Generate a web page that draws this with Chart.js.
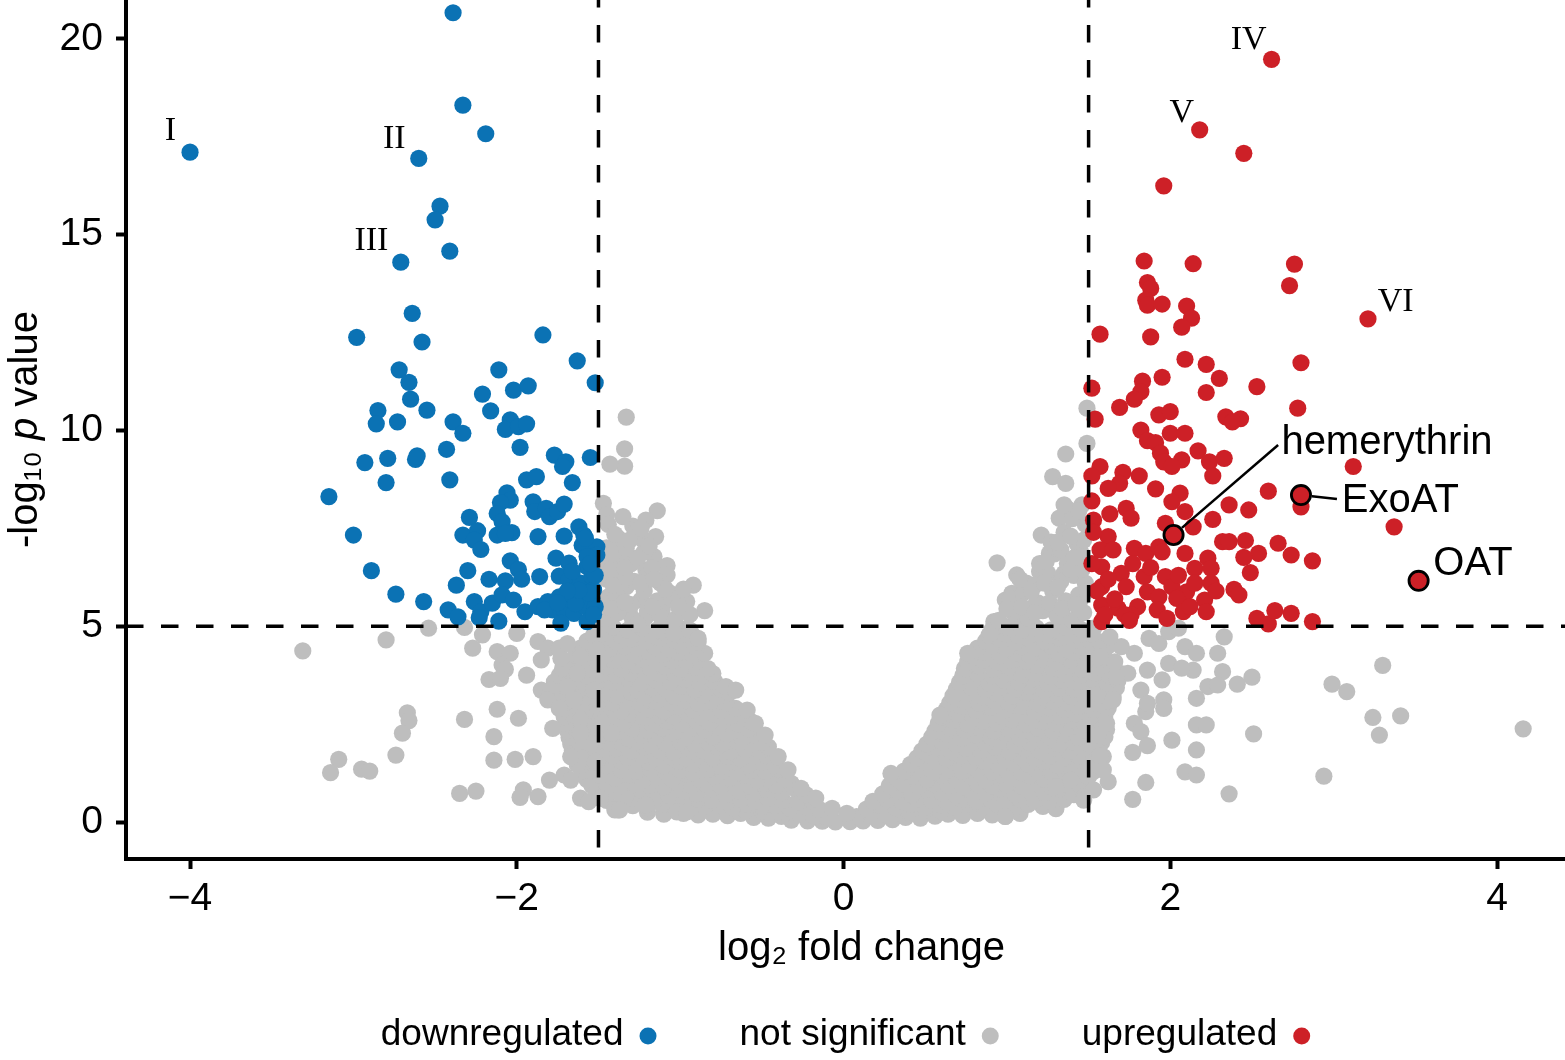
<!DOCTYPE html>
<html>
<head>
<meta charset="utf-8">
<title>Volcano plot</title>
<script src="https://cdn.jsdelivr.net/npm/chart.js@4.4.1/dist/chart.umd.min.js"></script>
<style>
  html, body { margin: 0; padding: 0; background: #fff; }
  #wrap { width: 1565px; height: 1060px; }
</style>
</head>
<body>
<div id="wrap"><canvas id="chart" width="1565" height="1060"></canvas></div>
<script>
// Axis ticks and cut-offs
const xTicks = [-4, -2, 0, 2, 4];
const yTicks = [0, 5, 10, 15, 20];
const fcCut = 1.5;   // |log2 fold change|
const pCut = 5;      // -log10 p

// Significant genes, [log2FC, -log10 p]
const downregulated = [
  [-2.39,20.67],[-4.00,17.11],[-2.33,18.31],[-2.19,17.58],[-2.60,16.95],[-2.47,15.73],[-2.50,15.38],[-2.41,14.58],
  [-2.71,14.30],[-2.64,12.99],[-2.98,12.38],[-2.58,12.26],[-1.84,12.44],[-1.63,11.78],[-1.52,11.22],[-2.72,11.55],
  [-2.66,11.23],[-2.65,10.80],[-2.55,10.52],[-2.85,10.51],[-2.86,10.17],[-2.73,10.22],[-2.11,11.55],[-2.02,11.03],
  [-1.93,11.14],[-2.21,10.93],[-2.16,10.50],[-2.39,10.22],[-2.33,9.93],[-2.04,10.27],[-2.07,10.03],[-1.99,10.10],
  [-1.94,10.17],[-1.98,9.57],[-2.93,9.18],[-2.79,9.29],[-2.62,9.26],[-2.61,9.35],[-2.43,9.52],[-2.80,8.67],
  [-2.41,8.74],[-3.15,8.31],[-3.00,7.33],[-2.89,6.42],[-2.74,5.82],[-2.57,5.63],[-2.42,5.42],[-2.36,5.24],
  [-1.77,9.37],[-1.70,9.20],[-1.72,9.08],[-1.55,9.31],[-1.94,8.74],[-1.88,8.82],[-1.66,8.67],[-2.06,8.41],
  [-2.04,8.22],[-2.10,8.16],[-2.12,7.88],[-2.09,7.67],[-1.90,8.18],[-1.89,7.93],[-1.82,8.01],[-1.80,7.80],
  [-1.75,7.93],[-1.71,8.12],[-2.29,7.78],[-2.33,7.33],[-2.24,7.44],[-2.26,7.20],[-2.22,6.96],[-2.12,7.33],
  [-2.03,7.39],[-2.07,7.37],[-1.87,7.29],[-1.71,7.30],[-1.62,7.54],[-1.59,7.33],[-1.60,7.07],[-1.51,7.03],
  [-1.51,6.82],[-1.57,6.78],[-1.76,6.74],[-1.68,6.61],[-1.57,6.52],[-2.04,6.67],[-1.99,6.45],[-1.97,6.20],
  [-2.30,6.42],[-2.17,6.20],[-2.07,6.16],[-1.86,6.27],[-1.74,6.28],[-1.68,6.18],[-1.61,6.10],[-1.54,6.27],
  [-2.37,6.05],[-2.26,5.63],[-2.22,5.37],[-2.15,5.59],[-2.09,5.80],[-2.02,5.67],[-1.95,5.37],[-2.23,5.22],
  [-2.11,5.13],[-1.87,5.50],[-1.81,5.63],[-1.74,5.75],[-1.67,5.67],[-1.60,5.75],[-1.54,5.71],[-1.78,5.42],
  [-1.71,5.42],[-1.65,5.33],[-1.58,5.50],[-1.52,5.50],[-1.73,5.08],[-1.57,5.12],[-1.53,5.93],[-1.83,5.42],
  [-1.52,6.30],[-1.55,6.60],[-1.53,5.30],[-1.56,5.85],[-1.64,5.58],[-1.62,5.92],[-1.69,5.90],[-1.75,5.60],
  [-1.66,6.40],[-1.58,7.25]
];

const upregulated = [
  [2.62,19.48],[2.18,17.68],[2.45,17.08],[1.96,16.25],[1.84,14.33],[2.14,14.26],[2.76,14.25],[1.86,13.78],
  [1.88,13.63],[2.73,13.70],[1.85,13.33],[1.86,13.20],[1.95,13.23],[2.10,13.18],[2.13,12.87],[2.07,12.64],
  [3.21,12.85],[1.57,12.46],[1.88,12.39],[2.09,11.82],[2.22,11.69],[2.30,11.33],[2.53,11.12],[2.80,11.73],
  [2.78,10.57],[2.22,10.97],[1.95,11.36],[1.83,11.26],[1.82,10.99],[1.78,10.80],[1.69,10.59],[1.52,11.08],
  [1.54,10.29],[1.93,10.40],[2.00,10.48],[2.34,10.35],[2.43,10.30],[2.38,10.22],[1.82,10.01],[2.00,9.93],
  [2.09,9.93],[1.86,9.74],[1.91,9.69],[2.17,9.48],[1.94,9.42],[1.96,9.20],[2.07,9.25],[2.01,9.08],
  [2.24,9.20],[2.33,9.29],[2.26,8.84],[1.57,9.08],[1.52,8.84],[1.71,8.93],[1.69,8.65],[1.81,8.84],
  [1.62,8.52],[1.91,8.51],[2.06,8.40],[2.01,8.18],[3.12,9.08],[2.60,8.45],[2.80,8.05],[3.37,7.54],
  [2.36,8.10],[2.48,7.97],[2.26,7.73],[2.09,7.93],[2.14,7.54],[1.97,7.63],[1.73,8.01],[1.63,7.87],
  [1.76,7.76],[1.53,7.71],[1.62,7.29],[1.57,6.95],[1.65,6.95],[1.78,6.99],[1.85,6.86],[1.93,7.03],
  [2.09,6.86],[2.32,7.16],[2.36,7.16],[2.46,7.19],[2.66,7.12],[2.74,6.82],[2.87,6.67],[2.54,6.86],
  [2.45,6.76],[2.49,6.37],[2.23,6.74],[2.15,6.48],[2.25,6.48],[1.84,6.27],[1.70,6.35],[1.58,6.52],
  [1.97,6.27],[2.01,6.01],[2.10,5.88],[2.25,6.10],[2.39,5.94],[2.42,5.80],[1.58,6.01],[1.73,6.01],
  [1.86,5.88],[1.93,5.75],[2.04,5.71],[2.21,5.67],[1.58,5.54],[1.68,5.46],[1.80,5.50],[1.92,5.42],
  [2.08,5.37],[2.22,5.37],[1.58,5.12],[1.76,5.29],[2.53,5.20],[2.60,5.06],[2.64,5.40],[2.74,5.33],
  [2.87,5.12],[1.55,5.90],[1.62,6.20],[1.66,5.70],[1.72,5.30],[1.77,6.60],[1.88,6.50],[1.95,6.90],
  [2.05,6.30],[2.12,5.50],[1.60,5.30],[1.75,5.15],[1.98,5.20],[2.15,6.10],[2.28,5.90],[1.52,6.60],
  [1.53,7.40],[1.52,8.20]
];

// Named genes
const geneNames = ['hemerythrin', 'ExoAT', 'OAT'];
const genePoints = [[2.02,7.33],[2.80,8.35],[3.52,6.16]];
const geneLabelAt = [[2.68,9.40],[3.05,7.92],[3.61,6.31]];
const geneLineEnd = [[2.66,9.63],[3.02,8.25],null];

// Roman numeral callouts
const romanText = ['I','II','III','IV','V','VI'];
const romanAt = [[-4.12,17.42],[-2.75,17.22],[-2.89,14.61],[2.48,19.74],[2.07,17.88],[3.38,13.05]];

// Not significant genes
const nsCenter = [
  [-0.32,0.05],[-0.22,0.03],[-0.13,0.02],[-0.05,0.00],[0.04,0.01],[0.12,0.03],[0.21,0.04],[0.30,0.06],
  [-0.55,0.12],[-0.46,0.10],[-0.38,0.14],[0.38,0.12],[0.47,0.10],[0.56,0.15],
  [-0.98,0.22],[-0.89,0.18],[-0.80,0.20],[-0.71,0.16],[-0.63,0.22],[-0.27,0.20],[-0.18,0.15],[-0.10,0.12],
  [0.08,0.14],[0.17,0.18],[0.25,0.20],[0.64,0.20],[0.73,0.17],[0.82,0.22],[0.91,0.18],[0.99,0.14],
  [-0.60,0.30],[-0.50,0.28],[0.50,0.30],[0.60,0.28],[-0.40,0.25],[0.40,0.26],[-1.10,0.20],[-1.20,0.25],[1.08,0.22]
];

const nsLeftArm = [
  [-1.38,0.31],[-1.29,0.42],[-1.20,0.36],[-1.11,0.45],[-1.03,0.38],[-0.94,0.47],[-0.85,0.40],[-0.76,0.44],
  [-0.68,0.37],[-0.59,0.46],[-0.50,0.39],[-0.42,0.43],[-0.33,0.36],[-0.24,0.41],[-0.15,0.33],
  [-1.45,0.55],[-1.35,0.52],[-1.25,0.58],[-1.16,0.54],[-1.07,0.57],[-0.98,0.52],[-0.89,0.59],[-0.80,0.55],
  [-0.71,0.51],[-0.63,0.58],[-0.54,0.53],[-0.46,0.60],[-0.37,0.55],[-0.28,0.52],[-0.20,0.57],
  [-1.50,0.66],[-1.42,0.78],[-1.33,0.70],[-1.24,0.82],[-1.16,0.74],[-1.07,0.68],[-0.98,0.80],[-0.90,0.72],
  [-0.81,0.84],[-0.72,0.70],[-0.64,0.79],[-0.55,0.73],[-0.47,0.83],[-0.38,0.75],[-0.30,0.86],[-0.23,0.70],
  [-1.54,0.93],[-1.45,0.97],[-1.37,0.91],[-1.28,0.98],[-1.19,0.94],[-1.10,0.90],[-1.01,0.99],[-0.93,0.93],
  [-0.84,0.96],[-0.75,0.92],[-0.66,0.98],[-0.57,0.91],[-0.49,0.97],[-0.41,0.94],[-0.32,0.99],
  [-1.57,1.08],[-1.49,1.19],[-1.40,1.12],[-1.31,1.20],[-1.23,1.06],[-1.14,1.15],[-1.05,1.10],[-0.96,1.22],
  [-0.88,1.09],[-0.79,1.17],[-0.70,1.12],[-0.61,1.20],[-0.53,1.07],[-0.45,1.16],[-0.36,1.10],
  [-1.60,1.30],[-1.53,1.34],[-1.44,1.27],[-1.36,1.33],[-1.27,1.29],[-1.18,1.35],[-1.09,1.28],[-1.00,1.32],
  [-0.92,1.26],[-0.83,1.34],[-0.74,1.30],[-0.65,1.27],[-0.56,1.33],[-0.48,1.29],[-0.40,1.34],
  [-1.63,1.46],[-1.54,1.53],[-1.45,1.44],[-1.36,1.56],[-1.28,1.48],[-1.19,1.52],[-1.10,1.43],[-1.01,1.55],
  [-0.92,1.47],[-0.84,1.50],[-0.75,1.42],[-0.67,1.54],[-0.58,1.46],[-0.50,1.52],[-0.42,1.44],
  [-1.65,1.64],[-1.58,1.68],[-1.50,1.62],[-1.41,1.69],[-1.32,1.65],[-1.23,1.70],[-1.15,1.63],[-1.06,1.67],
  [-0.97,1.62],[-0.88,1.69],[-0.80,1.64],[-0.71,1.68],[-0.63,1.62],[-0.55,1.67],[-0.47,1.70],
  [-1.66,1.82],[-1.57,1.90],[-1.48,1.79],[-1.39,1.87],[-1.30,1.81],[-1.22,1.92],[-1.13,1.84],[-1.04,1.78],
  [-0.95,1.89],[-0.86,1.83],[-0.77,1.91],[-0.69,1.80],[-0.60,1.86],[-0.51,1.81],[-0.46,1.92],
  [-1.67,1.99],[-1.62,2.05],[-1.53,1.98],[-1.44,2.03],[-1.35,2.00],[-1.26,2.06],[-1.18,1.97],[-1.09,2.02],
  [-1.00,2.05],[-0.91,1.98],[-0.83,2.04],[-0.74,2.00],[-0.65,2.06],[-0.57,1.99],[-0.50,2.03],
  [-1.68,2.16],[-1.59,2.24],[-1.50,2.18],[-1.41,2.27],[-1.32,2.14],[-1.24,2.22],[-1.15,2.17],[-1.06,2.26],
  [-0.97,2.15],[-0.88,2.23],[-0.80,2.18],[-0.71,2.25],[-0.62,2.14],[-0.54,2.21],
  [-1.69,2.33],[-1.64,2.40],[-1.55,2.35],[-1.46,2.41],[-1.38,2.32],[-1.29,2.38],[-1.20,2.34],[-1.11,2.40],
  [-1.02,2.33],[-0.93,2.39],[-0.85,2.35],[-0.76,2.42],[-0.67,2.33],[-0.58,2.38],
  [-1.70,2.52],[-1.61,2.60],[-1.52,2.50],[-1.43,2.58],[-1.35,2.53],[-1.26,2.62],[-1.17,2.49],[-1.08,2.57],
  [-0.99,2.51],[-0.90,2.60],[-0.82,2.54],[-0.73,2.61],[-0.64,2.50],[-0.57,2.58],
  [-1.71,2.69],[-1.66,2.75],[-1.57,2.68],[-1.48,2.74],[-1.39,2.70],[-1.30,2.76],[-1.22,2.67],[-1.13,2.73],
  [-1.04,2.70],[-0.95,2.76],[-0.87,2.68],[-0.78,2.74],[-0.69,2.70],[-0.62,2.75],
  [-1.72,2.88],[-1.63,2.95],[-1.54,2.86],[-1.45,2.93],[-1.36,2.84],[-1.28,2.96],[-1.19,2.89],[-1.10,2.83],
  [-1.01,2.94],[-0.92,2.87],[-0.84,2.92],[-0.75,2.85],[-0.66,2.90],
  [-1.74,3.04],[-1.68,3.10],[-1.59,3.03],[-1.50,3.09],[-1.41,3.05],[-1.33,3.11],[-1.24,3.02],[-1.15,3.08],
  [-1.06,3.05],[-0.97,3.10],[-0.89,3.03],[-0.80,3.08],[-0.72,3.04],
  [-1.75,3.22],[-1.66,3.30],[-1.57,3.20],[-1.48,3.28],[-1.39,3.23],[-1.30,3.31],[-1.22,3.19],[-1.13,3.27],
  [-1.04,3.22],[-0.95,3.30],[-0.86,3.24],[-0.77,3.20],[-0.70,3.30],
  [-1.76,3.39],[-1.70,3.45],[-1.62,3.38],[-1.53,3.44],[-1.44,3.40],[-1.35,3.46],[-1.26,3.37],[-1.17,3.43],
  [-1.09,3.40],[-1.00,3.46],[-0.91,3.38],[-0.82,3.44],[-0.75,3.40],
  [-1.77,3.58],[-1.68,3.65],[-1.59,3.55],[-1.50,3.62],[-1.41,3.57],[-1.32,3.66],[-1.24,3.54],[-1.15,3.63],
  [-1.06,3.58],[-0.97,3.64],[-0.88,3.56],[-0.79,3.60],
  [-1.74,3.74],[-1.66,3.80],[-1.57,3.73],[-1.48,3.79],[-1.39,3.75],[-1.30,3.81],[-1.21,3.72],[-1.12,3.78],
  [-1.03,3.75],[-0.94,3.80],[-0.86,3.74],[-0.80,3.79],
  [-1.72,3.92],[-1.63,3.99],[-1.54,3.90],[-1.45,3.97],[-1.36,3.91],[-1.27,4.00],[-1.18,3.93],[-1.09,3.98],
  [-1.00,3.90],[-0.91,3.96],[-0.83,3.92],
  [-1.68,4.09],[-1.59,4.14],[-1.50,4.08],[-1.41,4.13],[-1.32,4.10],[-1.23,4.16],[-1.14,4.07],[-1.05,4.13],
  [-0.96,4.10],[-0.88,4.15],
  [-1.64,4.27],[-1.55,4.34],[-1.46,4.25],[-1.37,4.32],[-1.28,4.26],[-1.19,4.35],[-1.10,4.28],[-1.01,4.33],
  [-0.92,4.26],[-0.85,4.31],
  [-1.61,4.44],[-1.52,4.49],[-1.43,4.43],[-1.34,4.48],[-1.25,4.45],[-1.16,4.50],[-1.07,4.42],[-0.98,4.48],
  [-0.90,4.45],
  [-1.57,4.62],[-1.48,4.68],[-1.39,4.60],[-1.30,4.67],[-1.21,4.61],[-1.12,4.70],[-1.03,4.63],[-0.95,4.66],
  [-0.89,4.60],
  [-1.53,4.77],[-1.45,4.82],[-1.36,4.76],[-1.27,4.81],[-1.18,4.78],[-1.09,4.83],[-1.00,4.77],[-0.93,4.80],
  [-1.50,4.92],[-1.41,4.98],[-1.32,4.90],[-1.23,4.96],[-1.14,4.91],[-1.05,4.97],[-0.97,4.93]
];

const nsRightArm = [
  [0.14,0.33],[0.23,0.42],[0.32,0.36],[0.41,0.45],[0.50,0.38],[0.59,0.44],[0.68,0.37],[0.77,0.46],
  [0.86,0.39],[0.95,0.43],[1.04,0.36],[1.13,0.45],[1.22,0.40],[1.30,0.34],
  [0.18,0.53],[0.27,0.57],[0.36,0.52],[0.45,0.59],[0.54,0.55],[0.63,0.51],[0.72,0.58],[0.81,0.54],
  [0.90,0.57],[0.99,0.52],[1.08,0.59],[1.17,0.55],[1.26,0.53],[1.35,0.58],
  [0.24,0.72],[0.33,0.80],[0.42,0.70],[0.51,0.83],[0.60,0.75],[0.69,0.68],[0.78,0.81],[0.87,0.73],
  [0.96,0.85],[1.05,0.71],[1.14,0.79],[1.23,0.74],[1.32,0.84],[1.41,0.70],
  [0.28,0.93],[0.37,0.97],[0.46,0.91],[0.55,0.98],[0.64,0.94],[0.73,0.90],[0.82,0.99],[0.91,0.93],
  [1.00,0.96],[1.09,0.92],[1.18,0.98],[1.27,0.91],[1.36,0.97],[1.45,0.94],
  [0.33,1.10],[0.42,1.18],[0.51,1.08],[0.60,1.20],[0.69,1.12],[0.78,1.16],[0.87,1.07],[0.96,1.21],
  [1.05,1.11],[1.14,1.18],[1.23,1.09],[1.32,1.20],[1.41,1.12],[1.50,1.16],
  [0.37,1.30],[0.46,1.34],[0.55,1.27],[0.64,1.33],[0.73,1.29],[0.82,1.35],[0.91,1.28],[1.00,1.32],
  [1.09,1.26],[1.18,1.34],[1.27,1.30],[1.36,1.27],[1.45,1.33],[1.53,1.29],
  [0.41,1.47],[0.50,1.54],[0.59,1.44],[0.68,1.52],[0.77,1.46],[0.86,1.55],[0.95,1.43],[1.04,1.51],
  [1.13,1.47],[1.22,1.56],[1.31,1.45],[1.40,1.53],[1.49,1.48],[1.56,1.44],
  [0.45,1.64],[0.54,1.68],[0.63,1.62],[0.72,1.69],[0.81,1.65],[0.90,1.70],[0.99,1.63],[1.08,1.67],
  [1.17,1.62],[1.26,1.69],[1.35,1.64],[1.44,1.68],[1.53,1.62],[1.59,1.67],
  [0.48,1.82],[0.57,1.90],[0.66,1.80],[0.75,1.88],[0.84,1.83],[0.93,1.91],[1.02,1.79],[1.11,1.87],
  [1.20,1.82],[1.29,1.90],[1.38,1.81],[1.47,1.88],[1.56,1.84],
  [0.51,1.99],[0.60,2.05],[0.69,1.98],[0.78,2.03],[0.87,2.00],[0.96,2.06],[1.05,1.97],[1.14,2.02],
  [1.23,2.05],[1.32,1.98],[1.41,2.04],[1.50,2.00],[1.58,2.03],
  [0.54,2.17],[0.63,2.25],[0.72,2.14],[0.81,2.22],[0.90,2.18],[0.99,2.26],[1.08,2.15],[1.17,2.23],
  [1.26,2.17],[1.35,2.25],[1.44,2.16],[1.53,2.22],[1.60,2.18],
  [0.56,2.33],[0.65,2.40],[0.74,2.35],[0.83,2.41],[0.92,2.32],[1.01,2.38],[1.10,2.34],[1.19,2.40],
  [1.28,2.33],[1.37,2.39],[1.46,2.35],[1.55,2.42],[1.61,2.36],
  [0.58,2.52],[0.67,2.60],[0.76,2.50],[0.85,2.58],[0.94,2.53],[1.03,2.61],[1.12,2.49],[1.21,2.57],
  [1.30,2.52],[1.39,2.60],[1.48,2.50],[1.57,2.58],
  [0.61,2.69],[0.70,2.75],[0.79,2.68],[0.88,2.74],[0.97,2.70],[1.06,2.76],[1.15,2.67],[1.24,2.73],
  [1.33,2.70],[1.42,2.76],[1.51,2.68],[1.60,2.74],
  [0.63,2.88],[0.72,2.95],[0.81,2.85],[0.90,2.93],[0.99,2.87],[1.08,2.96],[1.17,2.84],[1.26,2.92],
  [1.35,2.88],[1.44,2.95],[1.53,2.86],[1.62,2.91],
  [0.65,3.04],[0.74,3.10],[0.83,3.03],[0.92,3.09],[1.01,3.05],[1.10,3.11],[1.19,3.02],[1.28,3.08],
  [1.37,3.05],[1.46,3.10],[1.55,3.03],[1.63,3.08],
  [0.67,3.22],[0.76,3.30],[0.85,3.20],[0.94,3.28],[1.03,3.23],[1.12,3.31],[1.21,3.19],[1.30,3.27],
  [1.39,3.22],[1.48,3.30],[1.57,3.24],[1.65,3.20],
  [0.69,3.39],[0.78,3.45],[0.87,3.38],[0.96,3.44],[1.05,3.40],[1.14,3.46],[1.23,3.37],[1.32,3.43],
  [1.41,3.40],[1.50,3.46],[1.59,3.38],[1.67,3.43],
  [0.71,3.57],[0.80,3.65],[0.89,3.55],[0.98,3.63],[1.07,3.58],[1.16,3.66],[1.25,3.54],[1.34,3.62],
  [1.43,3.57],[1.52,3.65],[1.61,3.56],[1.68,3.62],
  [0.73,3.74],[0.82,3.80],[0.91,3.73],[1.00,3.79],[1.09,3.75],[1.18,3.81],[1.27,3.72],[1.36,3.78],
  [1.45,3.75],[1.54,3.80],[1.63,3.74],[1.70,3.79],
  [0.74,3.92],[0.83,3.99],[0.92,3.90],[1.01,3.97],[1.10,3.91],[1.19,4.00],[1.28,3.93],[1.37,3.98],
  [1.46,3.90],[1.55,3.96],[1.64,3.92],
  [0.76,4.09],[0.85,4.14],[0.94,4.08],[1.03,4.13],[1.12,4.10],[1.21,4.16],[1.30,4.07],[1.39,4.13],
  [1.48,4.10],[1.57,4.15],[1.66,4.09],
  [0.78,4.27],[0.87,4.34],[0.96,4.25],[1.05,4.32],[1.14,4.26],[1.23,4.35],[1.32,4.28],[1.41,4.33],
  [1.50,4.26],[1.59,4.31],
  [0.82,4.44],[0.91,4.49],[1.00,4.43],[1.09,4.48],[1.18,4.45],[1.27,4.50],[1.36,4.42],[1.45,4.48],
  [1.54,4.45],[1.62,4.50],
  [0.87,4.62],[0.96,4.68],[1.05,4.60],[1.14,4.67],[1.23,4.61],[1.32,4.70],[1.41,4.63],[1.50,4.66],
  [1.57,4.60],
  [0.89,4.77],[0.98,4.82],[1.07,4.76],[1.16,4.81],[1.25,4.78],[1.34,4.83],[1.43,4.77],[1.52,4.80],
  [0.91,4.92],[1.00,4.98],[1.09,4.90],[1.18,4.96],[1.27,4.91],[1.36,4.97],[1.45,4.93],[1.53,4.95]
];

// small-fold genes above the p cut-off
const nsUpperLeft = [
  [-1.33,10.34],[-1.34,9.53],[-1.34,9.09],[-1.43,9.14],[-1.47,8.14],[-1.45,7.85],[-1.14,7.95],[-1.21,7.71],
  [-1.29,7.56],[-1.15,7.29],[-1.23,7.22],[-1.38,7.25],[-1.33,6.82],[-1.16,6.78],[-1.08,6.55],[-1.08,6.31],
  [-1.21,6.44],[-0.92,6.05],[-1.06,5.84],[-0.96,5.63],[-0.85,5.40],[-1.11,5.42],[-1.24,5.67],[-1.33,6.01],
  [-1.44,5.75],[-1.31,5.33],[-1.21,5.24],[-1.44,5.33],[-0.94,4.90],[-0.89,4.69],[-1.04,4.82],
  [-1.46,5.20],[-1.38,5.35],[-1.29,5.15],[-1.20,5.40],[-1.12,5.25],[-1.03,5.18],[-0.94,5.30],[-1.47,5.60],
  [-1.39,5.80],[-1.30,5.55],[-1.22,5.90],[-1.14,5.65],[-1.05,5.70],[-0.98,5.95],[-1.45,6.20],[-1.37,6.35],
  [-1.28,6.15],[-1.20,6.30],[-1.12,6.10],[-1.46,6.60],[-1.38,6.75],[-1.30,6.60],[-1.22,6.90],[-1.17,6.50],
  [-1.45,7.00],[-1.36,7.10],[-1.27,7.40],[-1.19,7.05],[-1.44,7.60],[-1.35,7.80],
  [-1.42,5.45],[-1.34,5.62],[-1.26,5.05],[-1.17,5.50],[-1.09,5.95],[-1.01,5.50],[-1.41,6.05],[-1.33,6.25],
  [-1.24,6.10],[-1.16,6.20],[-1.42,6.45],[-1.34,6.50],[-1.26,6.75],[-1.41,6.85],[-1.33,7.00],[-1.40,7.35],
  [-1.31,7.20],[-1.24,7.50]
];

const nsUpperRight = [
  [1.49,10.57],[1.49,9.67],[1.36,9.40],[1.28,8.82],[1.36,8.65],[1.38,7.97],[1.32,7.76],[1.43,7.89],
  [1.21,7.33],[1.26,6.86],[0.94,6.62],[1.06,6.31],[1.12,6.10],[1.03,5.84],[0.99,5.67],[1.20,6.39],
  [1.35,6.35],[1.43,6.69],[1.45,5.67],[1.18,5.59],[1.30,5.33],[1.07,5.24],[0.92,5.12],[0.90,4.82],
  [0.95,5.15],[1.04,5.35],[1.13,5.20],[1.22,5.40],[1.31,5.25],[1.40,5.15],[1.47,5.35],[1.02,5.70],
  [1.10,5.85],[1.19,5.60],[1.28,5.90],[1.36,5.65],[1.44,5.80],[1.08,6.20],[1.17,6.05],[1.25,6.35],
  [1.33,6.15],[1.41,6.30],[1.48,6.10],[1.20,6.60],[1.29,6.85],[1.37,6.60],[1.45,6.90],[1.27,7.15],
  [1.35,7.40],[1.43,7.10],[1.48,7.60],[1.40,7.75],[1.46,8.10],
  [1.00,5.45],[1.09,5.50],[1.17,5.35],[1.26,5.60],[1.34,5.45],[1.42,5.55],[1.49,5.90],[1.15,5.90],
  [1.23,6.10],[1.31,6.00],[1.39,6.45],[1.46,6.45],[1.24,6.65],[1.33,6.95],[1.41,6.75],[1.47,7.20],
  [1.31,7.15],[1.39,7.30],[1.44,7.95],[1.35,8.10]
];

// scattered genes along the edges of the cloud
const nsLeftScatter = [
  [-3.31,4.37],[-2.80,4.65],[-2.54,4.95],[-2.32,4.97],[-2.21,4.78],[-2.27,4.44],[-2.12,4.35],[-2.04,4.31],
  [-2.09,4.01],[-2.07,3.90],[-2.17,3.64],[-2.10,3.67],[-2.00,4.82],[-1.94,3.75],[-1.87,4.61],[-1.81,4.44],
  [-1.85,3.37],[-1.79,3.37],[-1.81,3.12],[-1.74,2.90],[-2.67,2.79],[-2.66,2.59],[-2.70,2.27],[-2.74,1.71],
  [-3.09,1.60],[-3.14,1.26],[-2.95,1.35],[-2.90,1.30],[-2.32,2.62],[-2.12,2.88],[-1.99,2.65],[-2.14,2.18],
  [-1.78,2.39],[-2.14,1.58],[-2.01,1.60],[-1.90,1.67],[-2.35,0.73],[-2.25,0.79],[-1.96,0.82],[-1.98,0.63],
  [-1.87,0.65],[-1.80,1.07],[-1.71,1.20],[-1.61,1.63],[-1.52,1.54],[-1.61,0.61],[-1.56,0.52],[-1.49,0.61],
  [-1.40,0.31],[-1.69,3.46],[-1.65,3.12],[-1.61,2.61],[-1.60,2.27],[-1.63,3.80],[-1.73,4.18],[-1.85,4.14],
  [-1.55,2.01],[-1.74,4.44],[-1.69,4.56],[-1.61,4.22],[-1.51,4.39],[-1.53,3.37],[-1.49,2.61],[-1.42,2.27],
  [-0.72,3.46],[-0.66,3.37],[-0.59,2.86],[-0.54,2.52],[-0.48,2.22],[-0.40,1.67],[-0.34,1.33],[-0.26,0.86],
  [-0.17,0.61],[-0.07,0.35],[0.02,0.22],[-1.67,1.07],[-1.37,0.31],[-1.21,0.43],[-1.02,0.26],[-0.96,0.26],
  [-1.67,1.67],[-1.61,2.27],[-1.48,2.52]
];

const nsRightScatter = [
  [0.76,4.31],[0.59,2.73],[0.29,1.24],[1.30,0.90],[0.99,0.14],[1.47,0.65],[1.39,1.07],
  [1.87,4.69],[1.93,4.56],[1.99,4.86],[2.05,4.95],[2.09,4.48],[2.16,4.31],[2.33,4.73],[2.29,4.31],
  [1.99,4.05],[2.14,3.88],[2.07,3.93],[2.32,3.84],[1.95,3.63],[2.23,3.46],[2.29,3.50],[2.41,3.52],
  [2.50,3.70],[2.16,3.16],[1.96,3.12],[1.96,2.90],[1.85,2.82],[1.78,2.52],[1.82,2.31],[2.16,2.48],
  [2.22,2.48],[2.51,2.25],[2.01,2.09],[1.86,1.95],[1.77,1.78],[2.16,1.84],[1.57,1.69],[1.56,2.22],
  [1.62,1.03],[1.85,1.01],[2.09,1.28],[2.16,1.20],[1.77,0.58],[2.36,0.72],[2.94,1.17],[2.99,3.52],
  [3.08,3.33],[3.30,4.00],[3.24,2.67],[3.41,2.71],[3.28,2.22],[4.16,2.38],[1.53,0.82],[1.47,0.56],
  [1.59,1.33],[1.78,4.31],[1.74,3.80],[1.86,3.88],[1.70,4.48],[1.82,3.37],[1.65,3.12],[1.61,2.52],
  [1.86,3.03],[1.67,3.71],[1.57,4.22],[1.63,4.73]
];

const legendLabels = ['downregulated', 'not significant', 'upregulated'];

const colDown = '#0b72b4';
const colNs = '#bebebe';
const colUp = '#cd2027';

const toPts = arr => arr.map(p => ({ x: p[0], y: p[1] }));
const notSignificant = [].concat(nsCenter, nsLeftArm, nsRightArm, nsUpperLeft, nsUpperRight, nsLeftScatter, nsRightScatter);

const sans = "'Liberation Sans', Arial, Helvetica, sans-serif";
const serif = "'Liberation Serif', 'Times New Roman', serif";

// Thresholds, callouts, axis titles and legend
const overlay = {
  id: 'overlay',
  afterDatasetsDraw(chart) {
    const { ctx, chartArea: a, scales: { x, y } } = chart;
    ctx.save();
    ctx.strokeStyle = '#000';
    ctx.lineWidth = 3.5;
    ctx.setLineDash([17.5, 17.5]);
    const yc = y.getPixelForValue(pCut);
    ctx.lineDashOffset = 0;
    ctx.beginPath();
    ctx.moveTo(a.left, yc);
    ctx.lineTo(a.right, yc);
    ctx.stroke();
    [-fcCut, fcCut].forEach(v => {
      const xc = x.getPixelForValue(v);
      ctx.lineDashOffset = 10;
      ctx.beginPath();
      ctx.moveTo(xc, a.top);
      ctx.lineTo(xc, a.bottom);
      ctx.stroke();
    });
    ctx.setLineDash([]);

    // gene labels with leader lines
    ctx.lineWidth = 2.5;
    geneNames.forEach((name, i) => {
      const px = x.getPixelForValue(genePoints[i][0]);
      const py = y.getPixelForValue(genePoints[i][1]);
      if (geneLineEnd[i]) {
        const ex = x.getPixelForValue(geneLineEnd[i][0]);
        const ey = y.getPixelForValue(geneLineEnd[i][1]);
        const len = Math.hypot(ex - px, ey - py);
        ctx.beginPath();
        ctx.moveTo(px + (ex - px) / len * 11, py + (ey - py) / len * 11);
        ctx.lineTo(ex, ey);
        ctx.stroke();
      }
      ctx.fillStyle = '#000';
      ctx.font = '40px ' + sans;
      ctx.textAlign = 'left';
      ctx.textBaseline = 'alphabetic';
      ctx.fillText(name, x.getPixelForValue(geneLabelAt[i][0]), y.getPixelForValue(geneLabelAt[i][1]));
    });

    // roman numerals
    ctx.font = '34px ' + serif;
    ctx.textAlign = 'center';
    romanText.forEach((t, i) => {
      ctx.fillText(t, x.getPixelForValue(romanAt[i][0]), y.getPixelForValue(romanAt[i][1]));
    });
    ctx.restore();
  },
  afterDraw(chart) {
    const { ctx, chartArea: a } = chart;
    ctx.save();
    ctx.fillStyle = '#000';

    // x title
    ctx.font = '40px ' + sans;
    ctx.textAlign = 'center';
    ctx.textBaseline = 'alphabetic';
    ctx.fillText('log\u2082 fold change', (a.left + a.right) / 2 + 16, 960);

    // y title with italic p
    const parts = [['-log\u2081\u2080 ', 'normal'], ['p', 'italic'], [' value', 'normal']];
    const widths = parts.map(([t, st]) => { ctx.font = st + ' 40px ' + sans; return ctx.measureText(t).width; });
    const total = widths.reduce((s, w) => s + w, 0);
    ctx.translate(37, (a.top + a.bottom) / 2);
    ctx.rotate(-Math.PI / 2);
    ctx.textAlign = 'left';
    let cx = -total / 2;
    parts.forEach(([t, st], i) => {
      ctx.font = st + ' 40px ' + sans;
      ctx.fillText(t, cx, 0);
      cx += widths[i];
    });
    ctx.setTransform(1, 0, 0, 1, 0, 0);

    // legend: label first, then the key dot
    const cols = [colDown, colNs, colUp];
    ctx.font = '37px ' + sans;
    const gapDot = 16, r = 8.5, gapItem = 83;
    const tw = legendLabels.map(t => ctx.measureText(t).width);
    const full = tw.reduce((s, w) => s + w + gapDot + 2 * r, 0) + gapItem * (legendLabels.length - 1);
    let lx = (a.left + a.right) / 2 - full / 2;
    legendLabels.forEach((t, i) => {
      ctx.fillStyle = '#000';
      ctx.fillText(t, lx, 1045);
      lx += tw[i] + gapDot;
      ctx.fillStyle = cols[i];
      ctx.beginPath();
      ctx.arc(lx + r, 1036, r, 0, Math.PI * 2);
      ctx.fill();
      lx += 2 * r + gapItem;
    });
    ctx.restore();
  }
};

new Chart(document.getElementById('chart'), {
  type: 'scatter',
  data: {
    datasets: [
      { label: 'highlighted', data: toPts(genePoints), backgroundColor: colUp, borderColor: '#000',
        borderWidth: 2.8, pointRadius: 9.6, order: 0 },
      { label: 'upregulated', data: toPts(upregulated), backgroundColor: colUp, borderWidth: 0,
        pointRadius: 8.6, order: 1 },
      { label: 'downregulated', data: toPts(downregulated), backgroundColor: colDown, borderWidth: 0,
        pointRadius: 8.6, order: 2 },
      { label: 'not significant', data: toPts(notSignificant), backgroundColor: colNs, borderWidth: 0,
        pointRadius: 8.6, order: 3 }
    ]
  },
  options: {
    responsive: false,
    animation: false,
    layout: { padding: 0, autoPadding: false },
    plugins: { legend: { display: false }, tooltip: { enabled: false } },
    scales: {
      x: {
        type: 'linear', min: -4.392, max: 4.416,
        afterBuildTicks: s => { s.ticks = xTicks.map(v => ({ value: v })); },
        afterFit: s => { s.height = 201; s.paddingLeft = 0; s.paddingRight = 0; },
        border: { display: true, color: '#000', width: 4 },
        grid: { display: true, drawOnChartArea: false, drawTicks: true, tickLength: 10, tickWidth: 4, tickColor: '#000' },
        ticks: { color: '#000', padding: 7, font: { family: sans, size: 39 },
                 callback: v => (v < 0 ? '\u2212' + Math.abs(v) : String(v)) }
      },
      y: {
        type: 'linear', min: -0.945, max: 20.996,
        afterBuildTicks: s => { s.ticks = yTicks.map(v => ({ value: v })); },
        afterFit: s => { s.width = 126; s.paddingTop = 0; s.paddingBottom = 0; },
        border: { display: true, color: '#000', width: 4 },
        grid: { display: true, drawOnChartArea: false, drawTicks: true, tickLength: 10, tickWidth: 4, tickColor: '#000' },
        ticks: { color: '#000', padding: 13, font: { family: sans, size: 39 } }
      }
    }
  },
  plugins: [overlay]
});
</script>
</body>
</html>
